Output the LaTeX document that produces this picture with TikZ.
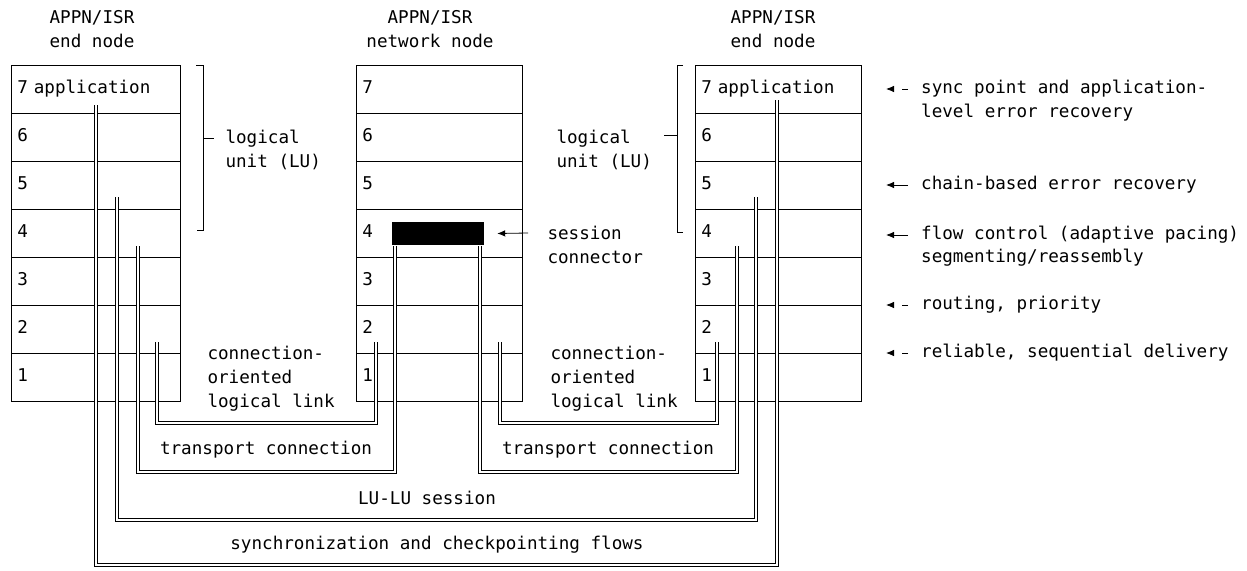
\documentclass[tikz,border=0pt]{standalone}
\usepackage{fontspec}
\setmonofont{DejaVu Sans Mono}
\usetikzlibrary{arrows.meta,calc}
\tikzset{
  every node/.style={font=\ttfamily\fontsize{17.6}{24}\selectfont},
  lay/.style={draw, line width=0.8pt, anchor=north west, minimum height=48pt, inner xsep=6pt, inner ysep=0pt, text height=12.5pt, text depth=3.5pt, align=left},
  layL/.style={lay, minimum width=169pt, text width=157pt},
  layM/.style={lay, minimum width=166pt, text width=154pt},
  conn/.style={draw, double, double distance=2.6pt, line width=0.65pt, line join=miter},
  brk/.style={draw, line width=0.7pt},
  lbl/.style={inner sep=0pt, anchor=west, text height=12.5pt, text depth=3.5pt},
  arr/.style={draw, line width=0.8pt, -{Latex[length=8pt,width=6.5pt]}},
  dasharr/.style={arr, dash pattern=on 6pt off 10pt},
}
\begin{document}
\begin{tikzpicture}[x=1pt,y=-1pt]
\useasboundingbox (0,0) rectangle (1247,570);

% titles
\node[align=center] (t1) at (92,29) {APPN/ISR\\end node};
\node[align=center] (t2) at (430,29) {APPN/ISR\\network node};
\node[align=center] (t3) at (773,29) {APPN/ISR\\end node};

% stacks
\foreach \n/\t [count=\i from 0] in {7/7 application,6/6,5/5,4/4,3/3,2/2,1/1}
  \node[layL] (L\n) at (11,{65+48*\i}) {\t};
\foreach \n [count=\i from 0] in {7,6,5,4,3,2,1}
  \node[layM] (M\n) at (356,{65+48*\i}) {\n};
\foreach \n/\t [count=\i from 0] in {7/7 application,6/6,5/5,4/4,3/3,2/2,1/1}
  \node[layM] (R\n) at (695,{65+48*\i}) {\t};

% session connector
\node[fill=black, minimum width=92pt, minimum height=23pt, inner sep=0pt] (sc) at (438,233.5) {};
\node[align=left, anchor=west] (sess) at (544,245) {session\\connector};
\coordinate (scT) at (528,233);
\draw[arr] (scT) -- ([xshift=13pt]sc.east);

% logical unit brackets
\coordinate (lbT) at (203,65);
\coordinate (lbB) at (203,230);
\coordinate (lbM) at (203,138);
\draw[brk] ([xshift=-7pt]lbT) -- (lbT) -- (lbB) -- ([xshift=-6pt]lbB);
\draw[brk] (lbM) -- ([xshift=11pt]lbM);
\node[align=left, anchor=west] (lu1) at (222,150) {logical\\unit (LU)};

\coordinate (rbT) at (677,65);
\coordinate (rbB) at (677,232);
\coordinate (rbM) at (677,135);
\draw[brk] ([xshift=6pt]rbT) -- (rbT) -- (rbB) -- ([xshift=6pt]rbB);
\draw[brk] (rbM) -- ([xshift=-13pt]rbM);
\node[align=left, anchor=west] (lu2) at (553,150) {logical\\unit (LU)};

% connections (double lines)
\coordinate (A1) at (96,105);  \coordinate (A2) at (777,100); \coordinate (Ay) at (0,565);
\coordinate (B1) at (117,197); \coordinate (B2) at (756,197); \coordinate (By) at (0,520);
\coordinate (C1) at (138,246); \coordinate (C2) at (395,245.5); \coordinate (Cy) at (0,472);
\coordinate (C3) at (480,245.5); \coordinate (C4) at (737,246);
\coordinate (D1) at (157,342); \coordinate (D2) at (376,342); \coordinate (Dy) at (0,423);
\coordinate (D3) at (500,342); \coordinate (D4) at (717,342);

\draw[conn] (A1) -- (A1 |- Ay) -- (A2 |- Ay) -- (A2);
\draw[conn] (B1) -- (B1 |- By) -- (B2 |- By) -- (B2);
\draw[conn] (C1) -- (C1 |- Cy) -- (C2 |- Cy) -- (C2);
\draw[conn] (C3) -- (C3 |- Cy) -- (C4 |- Cy) -- (C4);
\draw[conn] (D1) -- (D1 |- Dy) -- (D2 |- Dy) -- (D2);
\draw[conn] (D3) -- (D3 |- Dy) -- (D4 |- Dy) -- (D4);

% connection labels
\node[align=left, anchor=west] (ll1) at (204,379) {connection-\\oriented\\logical link};
\node[align=left, anchor=west] (ll2) at (547,379) {connection-\\oriented\\logical link};
\node (tc1) at (266,450) {transport connection};
\node (tc2) at (608,450) {transport connection};
\node (lulu) at (427,498) {LU-LU session};
\node (sync) at (437,545) {synchronization and checkpointing flows};

% right-hand annotations
\node[lbl] (f7a) at (921,89) {sync point and application-};
\node[lbl] (f7b) at (921,113) {level error recovery};
\node[lbl] (f5) at (921,185) {chain-based error recovery};
\node[lbl] (f4a) at (921,235) {flow control (adaptive pacing)};
\node[lbl] (f4b) at (921,258) {segmenting/reassembly};
\node[lbl] (f3) at (921,305) {routing, priority};
\node[lbl] (f2) at (921,353) {reliable, sequential delivery};

\draw[dasharr] ([xshift=-13pt]f7a.west) -- ([xshift=-35pt]f7a.west);
\draw[arr] ([xshift=-13pt]f5.west) -- ([xshift=-35pt]f5.west);
\draw[arr] ([xshift=-13pt]f4a.west) -- ([xshift=-35pt]f4a.west);
\draw[dasharr] ([xshift=-13pt]f3.west) -- ([xshift=-35pt]f3.west);
\draw[dasharr] ([xshift=-13pt]f2.west) -- ([xshift=-35pt]f2.west);
\end{tikzpicture}
\end{document}
